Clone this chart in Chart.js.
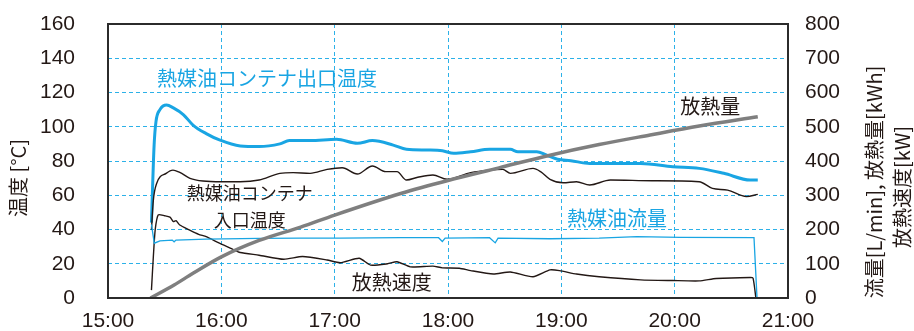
<!DOCTYPE html>
<html>
<head>
<meta charset="utf-8">
<script src="https://cdn.jsdelivr.net/npm/chart.js@4.4.0/dist/chart.umd.min.js"></script>
<style>
  html, body { margin: 0; padding: 0; background: #fff; }
  #wrap { width: 914px; height: 331px; position: relative; }
</style>
</head>
<body>
<div id="wrap"><canvas id="c"></canvas></div>
<script>
// Heat-medium oil container discharge test: temperatures (left axis, °C),
// flow / heat amount / heat release rate (right axis). Time = minutes after 15:00.

const X_TICKS = ['15:00', '16:00', '17:00', '18:00', '19:00', '20:00', '21:00'];

// outlet temperature [°C]
const outletT = [23, 24.4, 25.4, 27.5, 31, 34.6, 40, 45, 52, 59, 70, 80, 91, 96, 107, 121, 132, 140, 151, 158, 169, 177, 183, 192, 202, 213, 217, 227, 232, 238, 245, 255, 282, 299, 313, 326, 340, 344];
const outletV = [44, 89, 103, 110, 112.7, 111, 107, 101, 96, 92.3, 88.8, 88.4, 90, 91.9, 91.9, 92.7, 90.3, 91.9, 89.3, 86.8, 86.4, 86, 84.5, 85.4, 86.8, 86.8, 85.4, 85.4, 83.5, 81, 80.2, 78.6, 78.6, 76.7, 75.7, 72.8, 68.9, 68.9];

// inlet temperature [°C]
const inletT = [23, 24, 25.8, 30.8, 34.4, 38, 43.4, 50.3, 60, 70, 80, 91, 98, 107, 116, 124, 132, 140, 147, 153, 158, 164, 172, 179.5, 192, 202, 209, 213, 225, 229, 234, 241, 248, 255, 266, 288, 313, 320, 328, 338, 344];
const inletV = [39.7, 57, 67, 72.8, 74.7, 73.3, 69.9, 68.3, 67.9, 67.9, 68.9, 72.8, 73.2, 72.8, 75.1, 76.1, 72.4, 77.1, 73.8, 73.8, 68.9, 70.5, 71.8, 69.3, 73.2, 74.7, 75.1, 72.8, 75.7, 73.8, 69.3, 67.3, 67.9, 66, 68.9, 68.5, 67.9, 64, 63, 59.2, 60.5];

// oil flow [L/min]
const flowT = [23, 24.5, 27.5, 34, 35, 36, 52, 80, 102, 123, 155, 175, 177, 178.5, 202, 205, 206.5, 234, 260, 280, 303, 342, 343.6];
const flowV = [215, 160, 167, 169, 164, 169, 172, 174, 175, 175, 176, 176, 165, 175, 176, 161, 175, 173, 175, 179, 177, 176, 0];

// heat release rate [kW]
const rateT = [23, 24, 25, 26.6, 30, 32.8, 34.6, 36, 38, 43, 48, 52, 59, 65, 70, 80, 93, 103, 116, 123, 133, 139, 148, 153, 160, 172, 177, 186, 192, 204, 213, 225, 234, 239, 248, 260, 282, 299, 313, 322, 340, 341.5, 343];
const rateV = [23, 120, 200, 243, 240, 236, 223, 226, 213, 199, 186, 179, 160, 145, 133, 125, 113, 121, 111, 103, 116, 96, 100, 106, 91, 93, 88, 87, 80, 70, 76, 62, 82, 80, 70, 62, 53, 51, 50, 57, 60, 58, 0];

// cumulative heat released [kWh]
const heatT = [22.5, 35, 45, 60, 80, 102, 120, 155, 180, 207, 234, 260, 287, 313, 344];
const heatV = [0, 38, 72, 120, 168, 207, 242, 305, 343, 380, 417, 448, 476, 502, 529];

const pts = (t, v) => t.map((x, i) => ({ x: x, y: v[i] }));

const CYAN = '#19a5e3';
const INK = '#231815';
const GRID = '#2cb1e8';
const NUM_FONT = "'Liberation Sans', Arial, 'Noto Sans CJK JP', sans-serif";
const JP_FONT = "'Noto Sans CJK JP', 'Liberation Sans', sans-serif";

// frame, series labels and axis titles
const decor = {
  id: 'decor',
  afterDatasetsDraw(chart) {
    const { ctx, chartArea: a, scales } = chart;
    const x = scales.x, yL = scales.y;
    ctx.save();
    ctx.strokeStyle = '#2b2b2b';
    ctx.lineWidth = 2;
    ctx.strokeRect(a.left, a.top, a.right - a.left, a.bottom - a.top);

    ctx.textBaseline = 'middle';
    ctx.font = '20px ' + JP_FONT;

    ctx.fillStyle = CYAN;
    ctx.textAlign = 'left';
    ctx.fillText('熱媒油コンテナ出口温度', x.getPixelForValue(26), yL.getPixelForValue(128.5));
    ctx.fillText('熱媒油流量', x.getPixelForValue(243), yL.getPixelForValue(46.7));

    ctx.fillStyle = INK;
    ctx.fillText('放熱量', x.getPixelForValue(303), yL.getPixelForValue(112));
    ctx.fillText('放熱速度', x.getPixelForValue(129), yL.getPixelForValue(9.3));

    ctx.font = '18px ' + JP_FONT;
    ctx.textAlign = 'center';
    ctx.fillText('熱媒油コンテナ', x.getPixelForValue(75), yL.getPixelForValue(61.3));
    ctx.fillText('入口温度', x.getPixelForValue(75), yL.getPixelForValue(45.5));

    // axis titles
    ctx.font = '20px ' + JP_FONT;
    ctx.save();
    ctx.translate(18, 178);
    ctx.rotate(-Math.PI / 2);
    ctx.fillText('温度 [°C]', 0, 0);
    ctx.restore();

    ctx.save();
    ctx.translate(874, 182);
    ctx.rotate(-Math.PI / 2);
    ctx.fillText('流量[L/min], 放熱量[kWh]', 0, 0);
    ctx.restore();

    ctx.save();
    ctx.translate(902, 187);
    ctx.rotate(-Math.PI / 2);
    ctx.fillText('放熱速度[kW]', 0, 0);
    ctx.restore();

    ctx.restore();
  }
};

// keep the plot box fixed: no extra room for overhanging tick labels
function noOverhang(s) {
  s.paddingTop = 0; s.paddingBottom = 0; s.paddingLeft = 0; s.paddingRight = 0;
}

new Chart(document.getElementById('c'), {
  type: 'line',
  data: {
    datasets: [
      { label: '放熱量', data: pts(heatT, heatV), yAxisID: 'y2', borderColor: '#7f7f7f', borderWidth: 3.5, pointRadius: 0, cubicInterpolationMode: 'monotone' },
      { label: '熱媒油流量', data: pts(flowT, flowV), yAxisID: 'y2', borderColor: CYAN, borderWidth: 1.3, pointRadius: 0, tension: 0 },
      { label: '放熱速度', data: pts(rateT, rateV), yAxisID: 'y2', borderColor: INK, borderWidth: 1.4, pointRadius: 0, tension: 0.2 },
      { label: '熱媒油コンテナ入口温度', data: pts(inletT, inletV), yAxisID: 'y', borderColor: INK, borderWidth: 1.4, pointRadius: 0, cubicInterpolationMode: 'monotone' },
      { label: '熱媒油コンテナ出口温度', data: pts(outletT, outletV), yAxisID: 'y', borderColor: CYAN, borderWidth: 3, pointRadius: 0, cubicInterpolationMode: 'monotone' }
    ]
  },
  options: {
    responsive: true,
    maintainAspectRatio: false,
    animation: false,
    layout: { padding: { top: 24, left: 0, right: 0, bottom: 0 } },
    plugins: { legend: { display: false }, tooltip: { enabled: false } },
    scales: {
      x: {
        type: 'linear', min: 0, max: 360,
        afterBuildTicks: s => { s.ticks = X_TICKS.map((_, i) => ({ value: i * 60 })); },
        ticks: { callback: (v) => X_TICKS[Math.round(v / 60)], color: INK, font: { size: 21, family: NUM_FONT }, padding: 11, maxRotation: 0 },
        grid: { color: GRID, lineWidth: 1, drawTicks: false },
        border: { display: false, dash: [4, 3] },
        afterFit: s => { s.height = 33; noOverhang(s); }
      },
      y: {
        position: 'left', min: 0, max: 160,
        ticks: { stepSize: 20, color: INK, font: { size: 21, family: NUM_FONT }, padding: 33 },
        grid: { color: GRID, lineWidth: 1, drawTicks: false },
        border: { display: false, dash: [4, 3] },
        afterFit: s => { s.width = 108; noOverhang(s); }
      },
      y2: {
        position: 'right', min: 0, max: 800,
        ticks: { stepSize: 100, color: INK, font: { size: 21, family: NUM_FONT }, padding: 17 },
        grid: { drawOnChartArea: false, drawTicks: false },
        border: { display: false },
        afterFit: s => { s.width = 126; noOverhang(s); }
      }
    }
  },
  plugins: [decor]
});
</script>
</body>
</html>
